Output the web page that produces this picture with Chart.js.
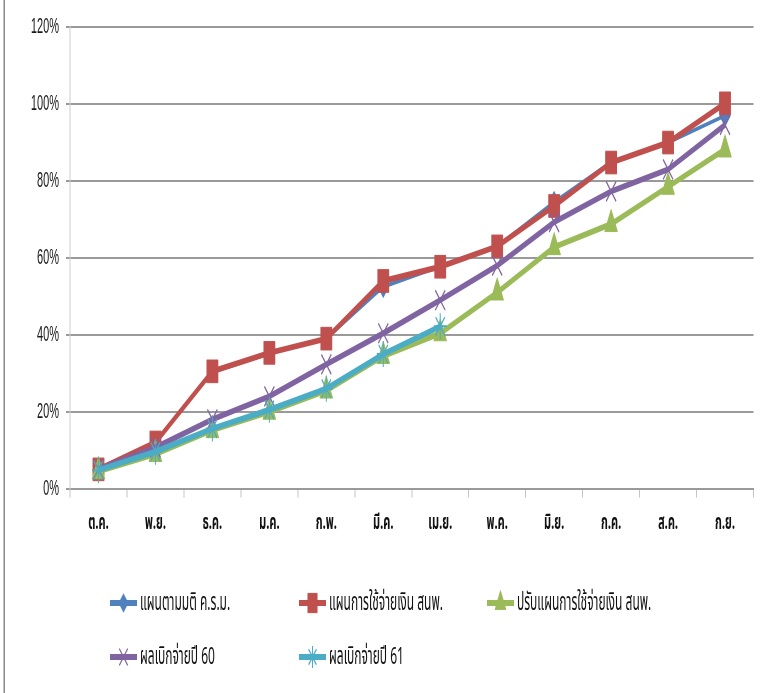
<!DOCTYPE html>
<html>
<head>
<meta charset="utf-8">
<script src="https://cdn.jsdelivr.net/npm/chart.js@4.4.0/dist/chart.umd.min.js"></script>
<style>
  html, body { margin: 0; padding: 0; background: #fff; overflow: hidden; }
  /* the reference is a horizontally squeezed picture, so draw wide and squeeze */
  #wrap { position: relative; width: 1524px; height: 693px; transform: scaleX(0.5); transform-origin: 0 0; }
  #frame { position: absolute; left: 7px; top: 0; width: 3px; height: 693px; background: #8a8a8a; }
  #box { position: absolute; left: 0; top: 0; width: 1524px; height: 560px; }
  .leg { position: absolute; display: flex; align-items: center; height: 34px;
         font-family: "Noto Sans Thai", "Tahoma", "DejaVu Sans", sans-serif; font-size: 24px; color: #111; white-space: nowrap; }
  .leg canvas { margin-right: 6px; }
</style>
</head>
<body>
<div id="wrap">
  <div id="frame"></div>
  <div id="box"><canvas id="grafico"></canvas></div>
  <div id="legenda"></div>
</div>
<script>
const meses = ['ต.ค.', 'พ.ย.', 'ธ.ค.', 'ม.ค.', 'ก.พ.', 'มี.ค.', 'เม.ย.', 'พ.ค.', 'มิ.ย.', 'ก.ค.', 'ส.ค.', 'ก.ย.'];

const planoCRM     = [5, 12, 30.3, 35.2, 39, 52.5, 57.8, 63, 74.5, 84.9, 90, 97];
const planoGasto   = [5, 12, 30.5, 35.3, 39, 54, 57.7, 63, 73.5, 84.8, 90, 100.2];
const planoAjust   = [4.5, 9, 15.2, 20, 25.5, 34.5, 40.4, 51, 62.8, 68.8, 78.5, 88.2];
const resultado60  = [5, 10.7, 18, 24, 32.3, 40.4, 49, 58, 69.3, 77.3, 83, 94.6];
const resultado61  = [4.8, 9.6, 15.6, 20.5, 26, 35, 42.2, null, null, null, null, null];

const yTicks = [0, 20, 40, 60, 80, 100, 120];

const series = [
  { label: 'แผนตามมติ ค.ร.ม.', data: planoCRM, color: '#4F81BD', style: 'rectRot', r: 11, bw: 1, lw: 4, order: 5 },
  { label: 'แผนการใช้จ่ายเงิน สนพ.', data: planoGasto, color: '#C0504D', style: 'rect', r: 16, bw: 1, lw: 6, order: 4 },
  { label: 'ปรับแผนการใช้จ่ายเงิน สนพ.', data: planoAjust, color: '#9BBB59', style: 'triangle', r: 15, bw: 1, lw: 6, order: 3 },
  { label: 'ผลเบิกจ่ายปี 60', data: resultado60, color: '#8064A2', style: 'crossRot', r: 14, bw: 2, lw: 6, order: 2 },
  { label: 'ผลเบิกจ่ายปี 61', data: resultado61, color: '#4BACC6', style: 'star', r: 13, bw: 2, lw: 6, order: 1 }
];

const fonte = '"Noto Sans Thai", "Tahoma", "DejaVu Sans", sans-serif';

const ctx = document.getElementById('grafico').getContext('2d');

new Chart(ctx, {
  type: 'line',
  data: {
    labels: meses,
    datasets: series.map(s => ({
      label: s.label,
      data: s.data,
      order: s.order,
      borderColor: s.color,
      backgroundColor: s.color,
      borderWidth: s.lw,
      pointStyle: s.style,
      pointRadius: s.r,
      pointHoverRadius: s.r,
      pointBorderWidth: s.bw,
      pointBorderColor: s.color,
      pointBackgroundColor: s.color,
      tension: 0,
      spanGaps: false,
      clip: false
    }))
  },
  options: {
    responsive: true,
    maintainAspectRatio: false,
    animation: false,
    events: [],
    layout: { padding: { top: 13, right: 0, bottom: 8, left: 0 } },
    plugins: {
      legend: { display: false },
      tooltip: { enabled: false }
    },
    scales: {
      x: {
        offset: true,
        grid: { drawOnChartArea: false, drawTicks: true, tickLength: 9, color: '#c4c4c4', lineWidth: 2, offset: true },
        border: { color: '#9a9a9a', width: 2 },
        ticks: { color: '#111', padding: 14, maxRotation: 0, font: { family: fonte, size: 22, weight: 'bold' } }
      },
      y: {
        min: 0,
        max: 120,
        afterBuildTicks: axis => { axis.ticks = yTicks.map(v => ({ value: v })); },
        afterFit: axis => { axis.width = 140; },
        grid: { color: '#9a9a9a', lineWidth: 2, tickLength: 8 },
        border: { color: '#cccccc', width: 2 },
        ticks: {
          color: '#1a1a1a',
          padding: 14,
          font: { family: '"Liberation Sans", Arial, sans-serif', size: 22 },
          callback: v => v + '%'
        }
      }
    }
  }
});

// legend as in the reference: fixed columns in two rows
const posicoes = [[220, 586], [598, 586], [974, 586], [220, 640], [598, 640]];
const legenda = document.getElementById('legenda');
series.forEach((s, i) => {
  const item = document.createElement('div');
  item.className = 'leg';
  item.style.left = posicoes[i][0] + 'px';
  item.style.top = posicoes[i][1] + 'px';
  const c = document.createElement('canvas');
  c.width = 54; c.height = 34;
  const g = c.getContext('2d');
  g.strokeStyle = s.color;
  g.fillStyle = s.color;
  g.lineWidth = 6;
  g.beginPath(); g.moveTo(0, 17); g.lineTo(54, 17); g.stroke();
  g.lineWidth = s.bw;
  Chart.helpers.drawPoint(g, { pointStyle: s.style, radius: s.r * 0.85, rotation: 0, borderWidth: s.bw }, 27, 17);
  item.appendChild(c);
  item.appendChild(document.createTextNode(s.label));
  legenda.appendChild(item);
});
</script>
</body>
</html>
